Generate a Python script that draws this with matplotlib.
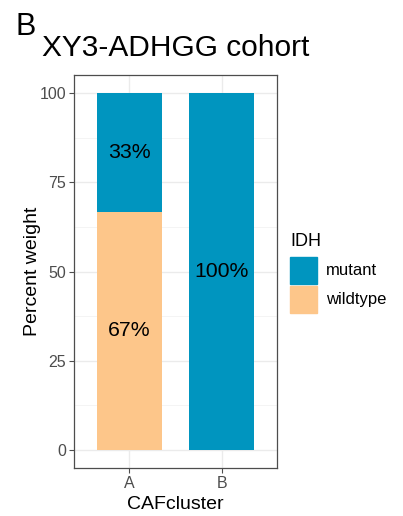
import matplotlib.pyplot as plt
from matplotlib.patches import Rectangle
import numpy as np

plt.rcParams['font.family'] = ['Liberation Sans', 'DejaVu Sans']

clusters = ['A', 'B']
wildtype = [66.7, 0.0]
mutant = [33.3, 100.0]
levels = ['mutant', 'wildtype']
colors = {'mutant': '#0095BF', 'wildtype': '#FDC68A'}
yticks = [0, 25, 50, 75, 100]

fig = plt.figure(figsize=(4.03, 5.16), dpi=100)
ax = fig.add_axes([74 / 403, 48 / 516, 203 / 403, 393 / 516])

x = np.arange(1, len(clusters) + 1)
ax.bar(x, wildtype, width=0.7, color=colors['wildtype'], zorder=2)
ax.bar(x, mutant, width=0.7, bottom=wildtype, color=colors['mutant'], zorder=2)

# percentage labels centred in each segment
for xi, w, m in zip(x, wildtype, mutant):
    if w > 0:
        ax.text(xi, w / 2, f'{round(w)}%', ha='center', va='center', fontsize=15.3, zorder=3)
    if m > 0:
        ax.text(xi, w + m / 2, f'{round(m)}%', ha='center', va='center', fontsize=15.3, zorder=3)

ax.set_xlim(0.4, 2.6)
ax.set_ylim(-5, 105)
ax.set_xticks(x)
ax.set_xticklabels(clusters)
ax.set_yticks(yticks)

# theme_bw style grid
for yv in yticks:
    ax.axhline(yv, color='#EBEBEB', lw=1.0, zorder=0)
for yv in [12.5, 37.5, 62.5, 87.5]:
    ax.axhline(yv, color='#F2F2F2', lw=0.6, zorder=0)
for xv in x:
    ax.axvline(xv, color='#EBEBEB', lw=1.0, zorder=0)

for s in ax.spines.values():
    s.set_color('#4D4D4D')
    s.set_linewidth(0.9)
ax.tick_params(colors='#4D4D4D', labelsize=11.5, length=3.5, width=0.8, pad=2)
for lab in ax.get_xticklabels() + ax.get_yticklabels():
    lab.set_color('#4D4D4D')

ax.set_xlabel('CAFcluster', fontsize=14, labelpad=4)
ax.set_ylabel('Percent weight', fontsize=14, labelpad=-1)

fig.text(15 / 403, 1 - 35 / 516, 'B', fontsize=22, ha='left', va='baseline')
fig.text(42 / 403, 1 - 56 / 516, 'XY3-ADHGG cohort', fontsize=21.5, ha='left', va='baseline')

# legend
fig.text(290 / 403, 1 - 246 / 516, 'IDH', fontsize=13, ha='left', va='baseline')
for i, lvl in enumerate(levels):
    top = 257 + i * 29
    fig.patches.append(Rectangle((290 / 403, 1 - (top + 27) / 516), 27 / 403, 27 / 516,
                                 transform=fig.transFigure, color=colors[lvl], figure=fig))
    fig.text(326 / 403, 1 - (top + 13.5) / 516, lvl, fontsize=12, ha='left', va='center')

fig.savefig('out.png', dpi=100)
